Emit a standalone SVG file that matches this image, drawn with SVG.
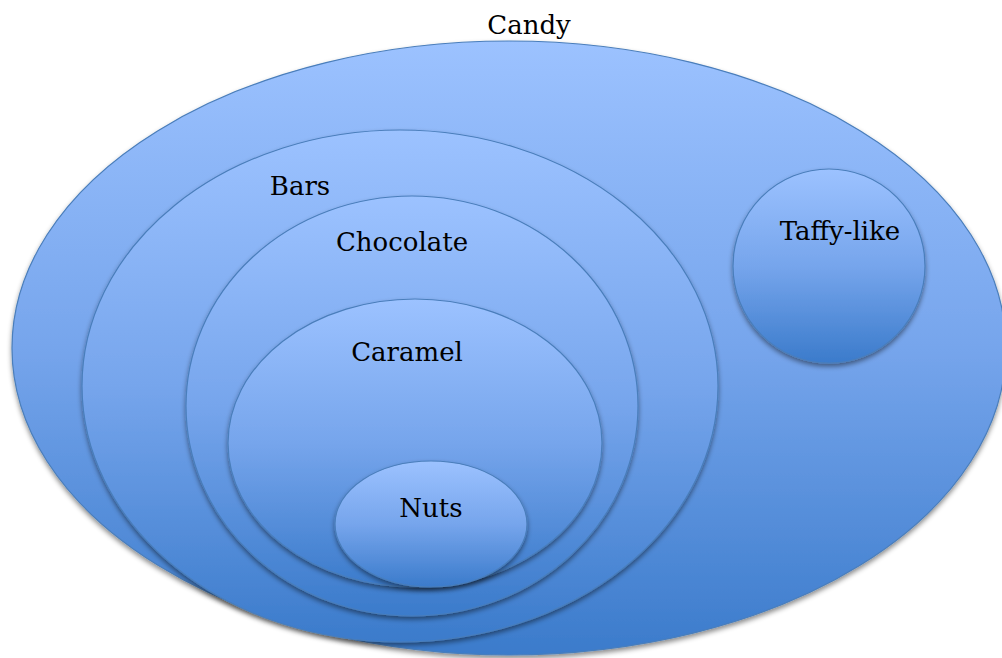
<svg xmlns="http://www.w3.org/2000/svg" width="1002" height="658" viewBox="0 0 1002 658">
  <defs>
    <linearGradient id="blue" x1="0" y1="0" x2="0" y2="1">
      <stop offset="0" stop-color="#9CC2FF"/>
      <stop offset="0.5" stop-color="#76A5EC"/>
      <stop offset="1" stop-color="#3B7BCB"/>
    </linearGradient>
    <filter id="shadow" x="-10%" y="-10%" width="120%" height="125%">
      <feDropShadow dx="0" dy="3" stdDeviation="2.5" flood-color="#000" flood-opacity="0.45"/>
    </filter>
    <style>
      .set { fill: url(#blue); stroke: #4A7EBB; stroke-width: 1.2; filter: url(#shadow); }
      .lbl { font-family: "DejaVu Serif", "Liberation Serif", serif; font-size: 26px; fill: #000; text-anchor: middle; }
    </style>
  </defs>
  <rect width="1002" height="658" fill="#FFFFFF"/>
  <g id="candy">
    <ellipse class="set" cx="509" cy="348" rx="497" ry="307"/>
    <text class="lbl" x="529" y="34">Candy</text>
  </g>
  <g id="bars">
    <ellipse class="set" cx="400" cy="386" rx="318" ry="256"/>
    <text class="lbl" x="300" y="195">Bars</text>
  </g>
  <g id="chocolate">
    <ellipse class="set" cx="412" cy="406" rx="226" ry="210"/>
    <text class="lbl" x="402" y="251">Chocolate</text>
  </g>
  <g id="caramel">
    <ellipse class="set" cx="415" cy="443" rx="187" ry="144"/>
    <text class="lbl" x="407" y="361">Caramel</text>
  </g>
  <g id="nuts">
    <ellipse class="set" cx="431" cy="524" rx="96" ry="63"/>
    <text class="lbl" x="431" y="517">Nuts</text>
  </g>
  <g id="taffy">
    <ellipse class="set" cx="829" cy="266" rx="96" ry="97"/>
    <text class="lbl" x="840" y="240">Taffy-like</text>
  </g>
  <g id="connectors"/>
</svg>
